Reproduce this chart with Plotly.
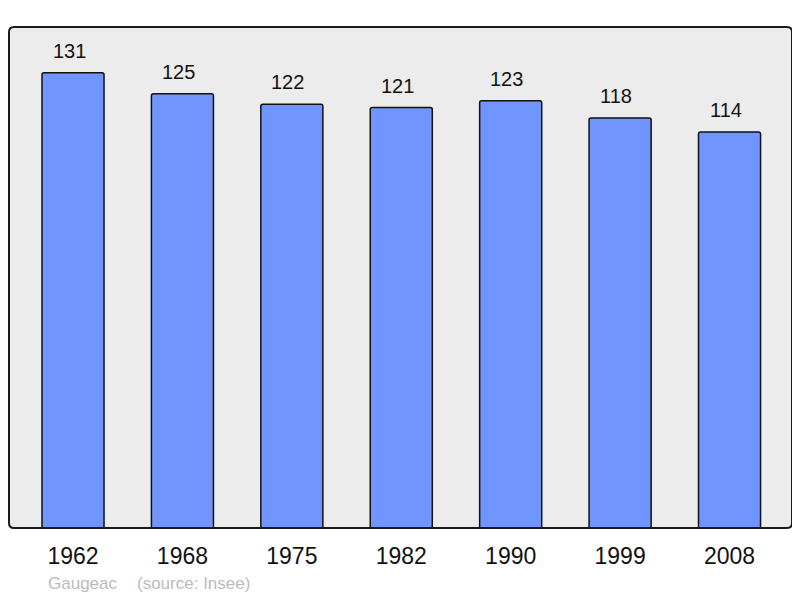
import plotly.graph_objects as go

years = ["1962", "1968", "1975", "1982", "1990", "1999", "2008"]
population = [131, 125, 122, 121, 123, 118, 114]
commune = "Gaugeac"
source = "(source: Insee)"

FONT = "Liberation Sans, Arial, sans-serif"
W, H = 792, 590
L, R, T, B = 1, 8, 19, 70
pw, ph = W - L - R, H - T - B

fig = go.Figure()
fig.add_trace(go.Bar(
    x=years, y=population,
    width=0.567,
    marker=dict(color="#7095ff", line=dict(color="#111111", width=1.5), cornerradius=2),
    hoverinfo="skip",
))

for i, (yr, v) in enumerate(zip(years, population)):
    fig.add_annotation(x=i, y=v, xref="x", yref="y", text=str(v), showarrow=False,
                       yanchor="bottom", yshift=9, xshift=-4,
                       font=dict(family=FONT, size=20, color="#111111"))

fy = -(575 - (H - B)) / ph
fig.add_annotation(text=commune, xref="paper", yref="paper", x=(38 - L) / pw, y=fy,
                   xanchor="left", yanchor="middle", showarrow=False,
                   font=dict(family=FONT, size=17, color="#bbbbbb"))
fig.add_annotation(text=source, xref="paper", yref="paper", x=(127 - L) / pw, y=fy,
                   xanchor="left", yanchor="middle", showarrow=False,
                   font=dict(family=FONT, size=17, color="#bbbbbb"))

rx, ry = 5 / pw, 5 / ph
path = (f"M {rx},0 L {1-rx},0 Q 1,0 1,{ry} L 1,{1-ry} Q 1,1 {1-rx},1 "
        f"L {rx},1 Q 0,1 0,{1-ry} L 0,{ry} Q 0,0 {rx},0 Z")
fig.add_shape(type="path", path=path, xref="paper", yref="paper",
              line=dict(color="#1a1a1a", width=2), layer="above")

fig.update_layout(
    width=W, height=H,
    margin=dict(l=L, r=R, t=T, b=B),
    paper_bgcolor="white",
    plot_bgcolor="#ececec",
    showlegend=False,
    xaxis=dict(type="category", range=[-0.585, 6.571], showgrid=False, zeroline=False, showline=False,
               ticks="", ticklabelstandoff=12,
               tickfont=dict(family=FONT, size=23, color="#111111")),
    yaxis=dict(range=[0, 144.2], showgrid=False, zeroline=False, showticklabels=False, showline=False),
)

fig.write_html("out.html")
